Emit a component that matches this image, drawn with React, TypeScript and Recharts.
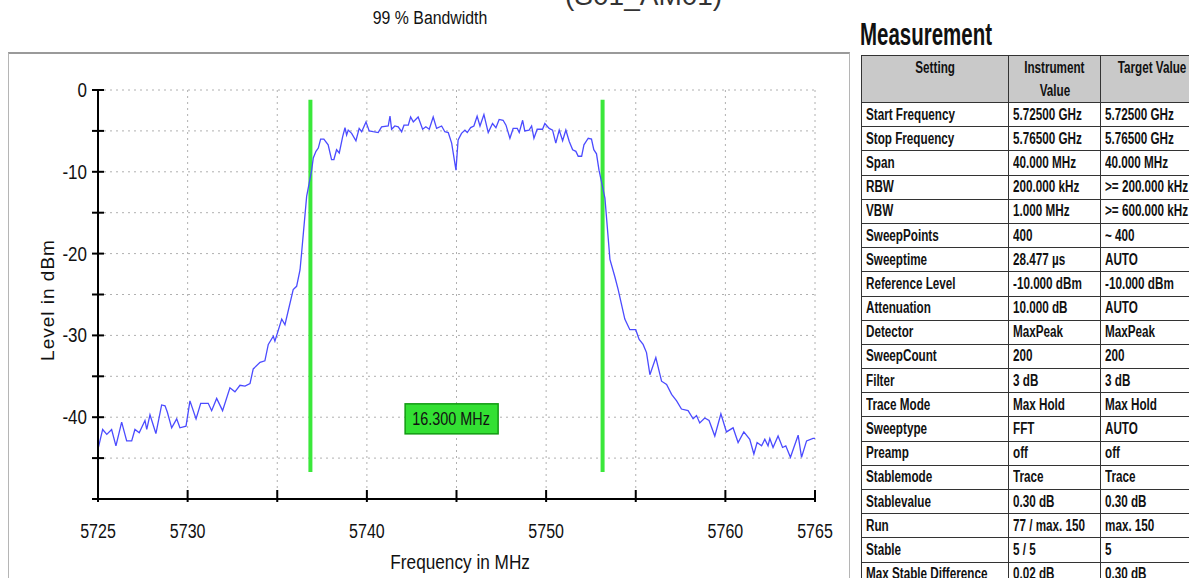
import { LineChart, Line, XAxis, YAxis, CartesianGrid, ReferenceLine, ReferenceDot } from 'recharts'

const chartTitle = '99 % Bandwidth'
const testCase = '(S01_AM01)'
const xTitle = 'Frequency in MHz'
const yTitle = 'Level in dBm'

const xTicks = [5725, 5730, 5735, 5740, 5745, 5750, 5755, 5760, 5765]
const xLabelled = [5725, 5730, 5740, 5750, 5760, 5765]
const yTicks = [0, -5, -10, -15, -20, -25, -30, -35, -40, -45, -50]
const yLabelled = [0, -10, -20, -30, -40]

// occupied bandwidth markers
const obwEdges = [5736.85, 5753.15]
const obwMarkerTop = -1.2
const obwMarkerBottom = -46.7
const obwLabel = '16.300 MHz'

// [MHz, dBm]
const lowerSkirt: [number, number][] = [
  [5725.0, -43.9], [5725.26, -41.5], [5725.49, -42.1], [5725.76, -41.5], [5726.0, -43.5],
  [5726.32, -40.6], [5726.6, -42.9], [5726.88, -42.9], [5727.06, -41.5], [5727.3, -41.9],
  [5727.62, -40.4], [5727.72, -41.5], [5727.9, -39.7], [5728.23, -42.0], [5728.55, -38.5],
  [5728.74, -38.6], [5728.87, -39.4], [5729.11, -41.3], [5729.39, -40.2], [5729.57, -41.3],
  [5729.91, -41.1], [5730.13, -38.0], [5730.47, -40.2], [5730.73, -38.3], [5731.15, -38.3],
  [5731.34, -39.2], [5731.62, -37.7], [5731.95, -39.2], [5732.36, -36.4], [5732.64, -36.9],
  [5732.92, -36.1], [5733.2, -36.2], [5733.48, -35.9], [5733.66, -34.1], [5734.04, -33.3],
  [5734.31, -33.1], [5734.5, -31.1], [5734.78, -30.1], [5734.87, -30.7], [5735.25, -28.0],
  [5735.43, -28.7], [5735.89, -24.4], [5736.08, -24.0], [5736.27, -22.0], [5736.36, -19.9],
  [5736.64, -13.0], [5736.92, -9.8],
]

const passband: [number, number][] = [
  [5737.01, -8.3], [5737.16, -7.5], [5737.29, -7.1], [5737.42, -6.0], [5737.6, -6.0],
  [5737.84, -6.7], [5738.03, -8.5], [5738.16, -8.5], [5738.31, -7.3], [5738.46, -7.7],
  [5738.65, -5.7], [5738.78, -4.6], [5738.87, -5.5], [5738.96, -4.9], [5739.15, -5.3],
  [5739.39, -6.2], [5739.57, -4.7], [5739.71, -5.1], [5739.95, -3.9], [5740.13, -5.0],
  [5740.35, -5.1], [5740.63, -5.2], [5740.82, -4.5], [5741.19, -4.4], [5741.29, -3.2],
  [5741.38, -4.8], [5741.56, -4.4], [5741.75, -4.5], [5741.94, -5.1], [5742.07, -4.3],
  [5742.31, -4.3], [5742.44, -3.3], [5742.59, -3.9], [5742.86, -3.3], [5743.11, -4.8],
  [5743.29, -4.5], [5743.48, -4.8], [5743.7, -3.3], [5743.89, -4.7], [5744.17, -4.4],
  [5744.35, -5.1], [5744.54, -5.2], [5744.73, -6.5], [5744.97, -9.8], [5745.09, -6.1],
  [5745.28, -5.3], [5745.47, -4.9], [5745.6, -5.2], [5745.79, -4.6], [5745.97, -4.4],
  [5746.15, -3.2], [5746.31, -4.4], [5746.53, -3.0], [5746.77, -5.2], [5747.01, -4.1],
  [5747.2, -4.6], [5747.38, -3.6], [5747.6, -3.7], [5747.76, -4.3], [5747.98, -5.9],
  [5748.16, -4.7], [5748.39, -4.7], [5748.5, -5.2], [5748.69, -3.7], [5748.81, -5.0],
  [5749.05, -4.9], [5749.19, -4.4], [5749.32, -5.9], [5749.5, -4.8], [5749.8, -4.8],
  [5749.93, -4.1], [5750.17, -4.7], [5750.36, -4.9], [5750.54, -6.5], [5750.73, -4.9],
  [5750.92, -6.2], [5751.1, -4.9], [5751.29, -6.3], [5751.48, -7.3], [5751.66, -7.5],
  [5751.79, -8.1], [5751.98, -8.1], [5752.11, -6.7], [5752.35, -5.9], [5752.53, -6.0],
  [5752.66, -7.3], [5752.81, -7.8], [5752.95, -9.8],
]

const upperSkirt: [number, number][] = [
  [5753.28, -13.2], [5753.56, -20.7], [5753.83, -22.8], [5754.02, -24.4], [5754.39, -28.0],
  [5754.67, -29.3], [5755.0, -29.3], [5755.19, -30.5], [5755.41, -31.1], [5755.6, -32.1],
  [5755.79, -34.8], [5756.12, -32.7], [5756.44, -35.6], [5756.72, -36.0], [5757.0, -37.2],
  [5757.28, -38.0], [5757.55, -39.0], [5757.92, -39.2], [5758.2, -40.2], [5758.39, -39.8],
  [5758.57, -40.7], [5758.85, -40.1], [5759.09, -40.4], [5759.41, -42.3], [5759.75, -39.6],
  [5760.06, -41.8], [5760.43, -41.3], [5760.71, -43.1], [5761.03, -41.8], [5761.36, -42.7],
  [5761.59, -44.5], [5761.77, -43.1], [5762.02, -43.5], [5762.2, -42.7], [5762.38, -43.5],
  [5762.48, -42.6], [5762.66, -43.7], [5762.94, -42.3], [5763.19, -43.7], [5763.37, -43.5],
  [5763.63, -44.9], [5763.82, -43.7], [5764.06, -42.2], [5764.25, -44.9], [5764.53, -42.9],
  [5764.89, -42.6], [5765.0, -42.6],
]

const settings = [
  'Start Frequency', 'Stop Frequency', 'Span', 'RBW', 'VBW', 'SweepPoints', 'Sweeptime',
  'Reference Level', 'Attenuation', 'Detector', 'SweepCount', 'Filter', 'Trace Mode',
  'Sweeptype', 'Preamp', 'Stablemode', 'Stablevalue', 'Run', 'Stable', 'Max Stable Difference',
]
const instrumentValues = [
  '5.72500 GHz', '5.76500 GHz', '40.000 MHz', '200.000 kHz', '1.000 MHz', '400', '28.477 µs',
  '-10.000 dBm', '10.000 dB', 'MaxPeak', '200', '3 dB', 'Max Hold', 'FFT', 'off', 'Trace',
  '0.30 dB', '77 / max. 150', '5 / 5', '0.02 dB',
]
const targetValues = [
  '5.72500 GHz', '5.76500 GHz', '40.000 MHz', '>= 200.000 kHz', '>= 600.000 kHz', '~ 400', 'AUTO',
  '-10.000 dBm', 'AUTO', 'MaxPeak', '200', '3 dB', 'Max Hold', 'AUTO', 'off', 'Trace',
  '0.30 dB', 'max. 150', '5', '0.30 dB',
]

const trace = [...lowerSkirt, ...passband, ...upperSkirt].map(([f, v]) => ({ f, v }))

// no narrow font installed, so squeeze Liberation Sans horizontally
const font = "'Liberation Sans', Arial, sans-serif"

function Squeeze({ k, origin = 'left', children }: { k: number; origin?: string; children: React.ReactNode }) {
  return (
    <span style={{ display: 'inline-block', transform: `scaleX(${k})`, transformOrigin: `${origin} center` }}>
      {children}
    </span>
  )
}

function XTick(props: any) {
  const { x, y, payload } = props
  const show = xLabelled.includes(payload.value)
  return (
    <g>
      <line x1={x} x2={x} y1={y - 9} y2={y + 3} stroke="#000" strokeWidth={2} />
      {show && (
        <text
          transform={`translate(${x},${y + 39}) scale(0.8,1)`}
          textAnchor="middle"
          fontFamily={font}
          fontSize={20}
          fill="#111"
        >
          {payload.value}
        </text>
      )}
    </g>
  )
}

function YTick(props: any) {
  const { x, y, payload } = props
  const show = yLabelled.includes(payload.value)
  return (
    <g>
      <line x1={x - 6} x2={x + 6} y1={y} y2={y} stroke="#000" strokeWidth={2} />
      {show && (
        <text
          transform={`translate(${x - 11},${y + 7}) scale(0.85,1)`}
          textAnchor="end"
          fontFamily={font}
          fontSize={20}
          fill="#111"
        >
          {payload.value}
        </text>
      )}
    </g>
  )
}

function BandwidthBadge(props: any) {
  const { cx, cy } = props
  return (
    <g>
      <rect x={cx - 46} y={cy - 15} width={93} height={30} fill="#33e033" stroke="#129a12" strokeWidth={1.5} />
      <text
        transform={`translate(${cx},${cy + 6}) scale(0.8,1)`}
        textAnchor="middle"
        fontFamily={font}
        fontSize={18}
        fill="#111"
      >
        {obwLabel}
      </text>
    </g>
  )
}

const cell: React.CSSProperties = {
  border: '1px solid #333',
  padding: '0 4px',
  height: 23.2,
  lineHeight: '22px',
  whiteSpace: 'nowrap',
  overflow: 'hidden',
}
const headCell: React.CSSProperties = {
  ...cell,
  background: '#c9c9c9',
  textAlign: 'center',
  verticalAlign: 'top',
  height: 46,
  lineHeight: '23px',
}

export default function App() {
  return (
    <div
      style={{
        position: 'absolute',
        left: 0,
        top: 0,
        width: 1189,
        height: 578,
        overflow: 'hidden',
        background: '#fff',
      }}
    >
      <div
        style={{
          position: 'absolute',
          left: 565,
          top: -20,
          fontFamily: font,
          fontSize: 28,
          color: '#333',
        }}
      >
        {testCase}
      </div>
      <div
        style={{
          position: 'absolute',
          left: 330,
          width: 200,
          top: 8,
          textAlign: 'center',
          fontFamily: font,
          fontSize: 18,
          color: '#111',
        }}
      >
        <Squeeze k={0.88} origin="center">
          {chartTitle}
        </Squeeze>
      </div>
      <div
        style={{
          position: 'absolute',
          left: 8,
          top: 52,
          width: 842,
          height: 540,
          border: '1px solid #b5b5b5',
          borderTop: '2px solid #9a9a9a',
          boxSizing: 'border-box',
        }}
      />
      <div style={{ position: 'absolute', left: 0, top: 0 }}>
        <LineChart width={850} height={578} data={trace} margin={{ top: 90, right: 35, bottom: 39, left: 38 }}>
          <CartesianGrid stroke="#b0b0b0" strokeDasharray="2 4" />
          <XAxis
            type="number"
            dataKey="f"
            domain={[5725, 5765]}
            ticks={xTicks}
            interval={0}
            height={40}
            tickSize={0}
            tickMargin={0}
            tickLine={false}
            axisLine={{ stroke: '#000', strokeWidth: 2 }}
            tick={XTick}
          />
          <YAxis
            type="number"
            domain={[-50, 0]}
            ticks={yTicks}
            interval={0}
            width={60}
            tickSize={0}
            tickMargin={0}
            tickLine={false}
            axisLine={{ stroke: '#000', strokeWidth: 2 }}
            tick={YTick}
          />
          {obwEdges.map((f) => (
            <ReferenceLine
              key={f}
              segment={[
                { x: f, y: obwMarkerTop },
                { x: f, y: obwMarkerBottom },
              ]}
              stroke="#3be83b"
              strokeWidth={4}
            />
          ))}
          <Line
            type="linear"
            dataKey="v"
            stroke="#4b4bff"
            strokeWidth={1.3}
            dot={false}
            isAnimationActive={false}
          />
          <ReferenceDot x={5744.7} y={-40.2} r={0} shape={BandwidthBadge} />
        </LineChart>
      </div>
      <div
        style={{
          position: 'absolute',
          left: 300,
          width: 320,
          top: 551,
          textAlign: 'center',
          fontFamily: font,
          fontSize: 20,
          color: '#111',
        }}
      >
        <Squeeze k={0.86} origin="center">
          {xTitle}
        </Squeeze>
      </div>
      <div
        style={{
          position: 'absolute',
          left: 48,
          top: 300,
          width: 200,
          marginLeft: -100,
          marginTop: -11,
          textAlign: 'center',
          transform: 'rotate(-90deg)',
          fontFamily: font,
          fontSize: 19,
          letterSpacing: 1,
          color: '#111',
        }}
      >
        {yTitle}
      </div>
      <div
        style={{
          position: 'absolute',
          left: 860,
          top: 16,
          fontFamily: font,
          fontWeight: 'bold',
          fontSize: 32,
          color: '#111',
        }}
      >
        <Squeeze k={0.64}>Measurement</Squeeze>
      </div>
      <table
        style={{
          position: 'absolute',
          left: 861,
          top: 55,
          borderCollapse: 'collapse',
          tableLayout: 'fixed',
          width: 340,
          fontFamily: font,
          fontWeight: 'bold',
          fontSize: 16,
          color: '#111',
        }}
      >
        <colgroup>
          <col style={{ width: 147 }} />
          <col style={{ width: 92 }} />
          <col style={{ width: 101 }} />
        </colgroup>
        <thead>
          <tr>
            <th style={headCell}>
              <Squeeze k={0.73} origin="center">
                Setting
              </Squeeze>
            </th>
            <th style={headCell}>
              <Squeeze k={0.73} origin="center">
                Instrument
              </Squeeze>
              <br />
              <Squeeze k={0.73} origin="center">
                Value
              </Squeeze>
            </th>
            <th style={headCell}>
              <Squeeze k={0.73} origin="center">
                Target Value
              </Squeeze>
            </th>
          </tr>
        </thead>
        <tbody>
          {settings.map((s, i) => (
            <tr key={s}>
              <td style={cell}>
                <Squeeze k={0.73}>{s}</Squeeze>
              </td>
              <td style={cell}>
                <Squeeze k={0.73}>{instrumentValues[i]}</Squeeze>
              </td>
              <td style={cell}>
                <Squeeze k={0.73}>{targetValues[i]}</Squeeze>
              </td>
            </tr>
          ))}
        </tbody>
      </table>
    </div>
  )
}
